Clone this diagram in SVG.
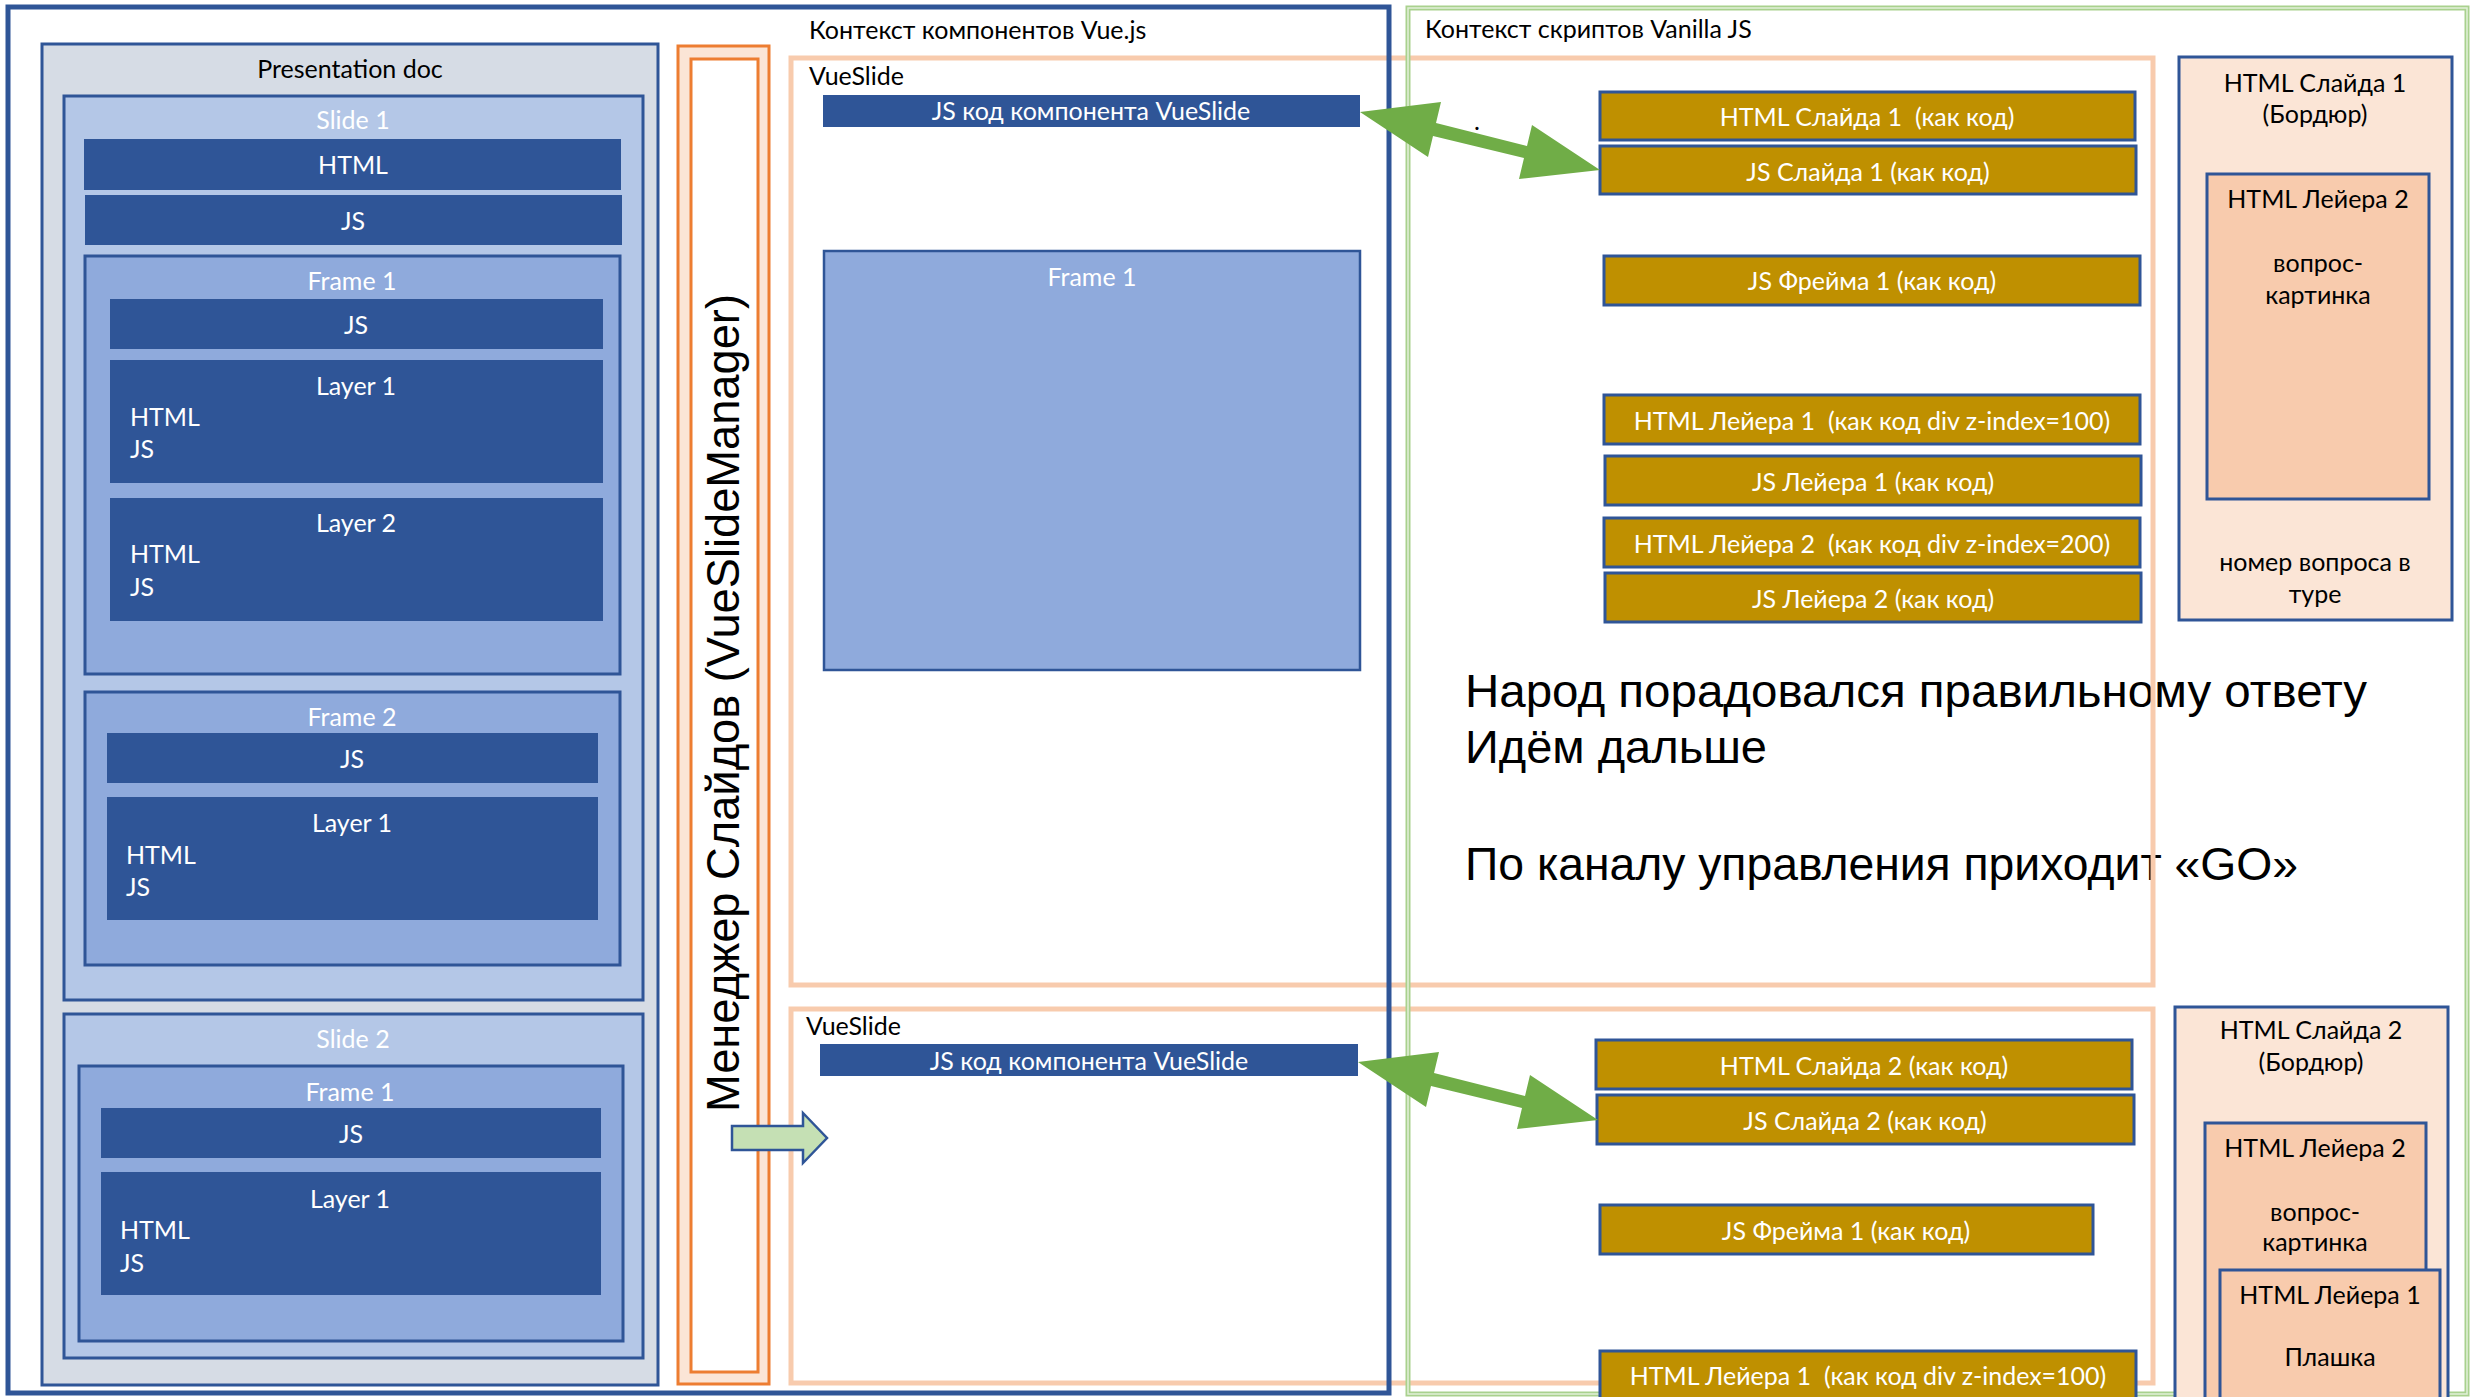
<svg xmlns="http://www.w3.org/2000/svg" width="2471" height="1397" viewBox="0 0 2471 1397">
<style>
.t{font-family:Lato,"Liberation Sans",sans-serif;font-size:25px}
.w{fill:#fff}.k{fill:#000}.m{text-anchor:middle}
.pre{white-space:pre}
.dark{fill:#2f5597}
.slide{fill:#b4c7e7;stroke:#2f5597;stroke-width:3}
.frame{fill:#8faadc;stroke:#2f5597;stroke-width:3}
.gold{fill:#bf9000;stroke:#2f5597;stroke-width:3}
.peach{fill:#fbe5d6;stroke:#2f5597;stroke-width:3}
.peach2{fill:#f8cbad;stroke:#2f5597;stroke-width:3}
.vs{fill:none;stroke:#f8cbad;stroke-width:5}
.big{font-family:"Liberation Sans",Arial,sans-serif;font-size:47px;fill:#000}
</style>
<rect x="0" y="0" width="2471" height="1397" fill="#fff"/>

<g id="big-text">
<text class="big" x="1465" y="707" textLength="902" lengthAdjust="spacingAndGlyphs">Народ порадовался правильному ответу</text>
<text class="big" x="1465" y="763" textLength="302" lengthAdjust="spacingAndGlyphs">Идём дальше</text>
<text class="big" x="1465" y="880" textLength="833" lengthAdjust="spacingAndGlyphs">По каналу управления приходит «GO»</text>
</g>

<g id="vueslide-1">
<rect class="vs" x="791" y="58" width="1362" height="927"/>
<text class="t k" x="809" y="85">VueSlide</text>
</g>
<g id="vueslide-2">
<rect class="vs" x="791" y="1009" width="1362" height="374"/>
<text class="t k" x="806" y="1035">VueSlide</text>
</g>

<g id="ctx-vue">
<rect x="8" y="7" width="1381" height="1386" fill="none" stroke="#2f5597" stroke-width="5"/>
<text class="t k" x="809" y="39">Контекст компонентов Vue.js</text>
</g>
<g id="ctx-vanilla">
<rect x="1408" y="8" width="1059" height="1386" fill="none" stroke="#a9d18e" stroke-width="5"/>
<rect x="1408" y="8" width="1059" height="1386" fill="none" stroke="#e2f0d9" stroke-width="1.5"/>
<text class="t k" x="1425" y="38">Контекст скриптов Vanilla JS</text>
</g>

<g id="presentation-doc">
<rect x="42" y="44" width="616" height="1341" fill="#d6dce5" stroke="#2f5597" stroke-width="3"/>
<text class="t k m" x="350" y="78">Presentation doc</text>
</g>

<g id="slide-1">
<rect class="slide" x="64" y="96" width="579" height="904"/>
<text class="t w m" x="353" y="129">Slide 1</text>
<rect class="dark" x="84" y="139" width="537" height="51"/>
<text class="t w m" x="353" y="174">HTML</text>
<rect class="dark" x="85" y="195" width="537" height="50"/>
<text class="t w m" x="353" y="230">JS</text>
</g>
<g id="s1-frame-1">
<rect class="frame" x="85" y="256" width="535" height="418"/>
<text class="t w m" x="352" y="290">Frame 1</text>
<rect class="dark" x="110" y="299" width="493" height="50"/>
<text class="t w m" x="356" y="334">JS</text>
</g>
<g id="s1-f1-layer-1">
<rect class="dark" x="110" y="360" width="493" height="123"/>
<text class="t w m" x="356" y="395">Layer 1</text>
<text class="t w" x="130" y="426">HTML</text>
<text class="t w" x="130" y="458">JS</text>
</g>
<g id="s1-f1-layer-2">
<rect class="dark" x="110" y="498" width="493" height="123"/>
<text class="t w m" x="356" y="532">Layer 2</text>
<text class="t w" x="130" y="563">HTML</text>
<text class="t w" x="130" y="596">JS</text>
</g>
<g id="s1-frame-2">
<rect class="frame" x="85" y="692" width="535" height="273"/>
<text class="t w m" x="352" y="726">Frame 2</text>
<rect class="dark" x="107" y="733" width="491" height="50"/>
<text class="t w m" x="352" y="768">JS</text>
</g>
<g id="s1-f2-layer-1">
<rect class="dark" x="107" y="797" width="491" height="123"/>
<text class="t w m" x="352" y="832">Layer 1</text>
<text class="t w" x="126" y="864">HTML</text>
<text class="t w" x="126" y="896">JS</text>
</g>

<g id="slide-2">
<rect class="slide" x="64" y="1014" width="579" height="344"/>
<text class="t w m" x="353" y="1048">Slide 2</text>
</g>
<g id="s2-frame-1">
<rect class="frame" x="79" y="1066" width="544" height="275"/>
<text class="t w m" x="350" y="1101">Frame 1</text>
<rect class="dark" x="101" y="1108" width="500" height="50"/>
<text class="t w m" x="351" y="1143">JS</text>
</g>
<g id="s2-f1-layer-1">
<rect class="dark" x="101" y="1172" width="500" height="123"/>
<text class="t w m" x="350" y="1208">Layer 1</text>
<text class="t w" x="120" y="1239">HTML</text>
<text class="t w" x="120" y="1272">JS</text>
</g>

<g id="slide-manager">
<rect x="678" y="46" width="91" height="1338" fill="#fbe5d6" stroke="#ed7d31" stroke-width="3"/>
<rect x="691" y="59" width="67" height="1313" fill="#fff" stroke="#ed7d31" stroke-width="3"/>
<text transform="translate(739,1112) rotate(-90)" x="0" y="0" font-family="'Liberation Sans',Arial,sans-serif" font-size="46" fill="#000" textLength="818" lengthAdjust="spacingAndGlyphs">Менеджер Слайдов (VueSlideManager)</text>
</g>

<g id="vue-js-code-1">
<rect class="dark" x="823" y="95" width="537" height="32"/>
<text class="t w m" x="1091" y="120">JS код компонента VueSlide</text>
</g>
<g id="vue-frame-1">
<rect x="824" y="251" width="536" height="419" fill="#8faadc" stroke="#2f5597" stroke-width="2.5"/>
<text class="t w m" x="1092" y="286">Frame 1</text>
</g>
<g id="vue-js-code-2">
<rect class="dark" x="820" y="1044" width="538" height="32"/>
<text class="t w m" x="1089" y="1070">JS код компонента VueSlide</text>
</g>

<g id="gold-bars-1">
<g id="html-slide-1"><rect class="gold" x="1600" y="92" width="535" height="48"/><text class="t w m pre" xml:space="preserve" x="1867" y="126">HTML Слайда 1  (как код)</text></g>
<g id="js-slide-1"><rect class="gold" x="1600" y="146" width="536" height="48"/><text class="t w m" x="1868" y="181">JS Слайда 1 (как код)</text></g>
<g id="js-frame-1"><rect class="gold" x="1604" y="256" width="536" height="49"/><text class="t w m" x="1872" y="290">JS Фрейма 1 (как код)</text></g>
<g id="html-layer-1"><rect class="gold" x="1604" y="395" width="536" height="49"/><text class="t w m pre" xml:space="preserve" x="1872" y="430">HTML Лейера 1  (как код div z-index=100)</text></g>
<g id="js-layer-1"><rect class="gold" x="1605" y="456" width="536" height="49"/><text class="t w m" x="1873" y="491">JS Лейера 1 (как код)</text></g>
<g id="html-layer-2"><rect class="gold" x="1604" y="518" width="536" height="49"/><text class="t w m pre" xml:space="preserve" x="1872" y="553">HTML Лейера 2  (как код div z-index=200)</text></g>
<g id="js-layer-2"><rect class="gold" x="1605" y="573" width="536" height="49"/><text class="t w m" x="1873" y="608">JS Лейера 2 (как код)</text></g>
</g>
<g id="gold-bars-2">
<g id="html-slide-2"><rect class="gold" x="1596" y="1040" width="536" height="49"/><text class="t w m" x="1864" y="1075">HTML Слайда 2 (как код)</text></g>
<g id="js-slide-2"><rect class="gold" x="1597" y="1095" width="537" height="49"/><text class="t w m" x="1865" y="1130">JS Слайда 2 (как код)</text></g>
<g id="js-frame-1b"><rect class="gold" x="1600" y="1205" width="493" height="49"/><text class="t w m" x="1846" y="1240">JS Фрейма 1 (как код)</text></g>
<g id="html-layer-1b"><rect class="gold" x="1600" y="1351" width="536" height="60"/><text class="t w m pre" xml:space="preserve" x="1868" y="1385">HTML Лейера 1  (как код div z-index=100)</text></g>
</g>

<g id="border-slide-1">
<rect class="peach" x="2179" y="57" width="273" height="563"/>
<text class="t k m" x="2315" y="92">HTML Слайда 1</text>
<text class="t k m" x="2315" y="123">(Бордюр)</text>
<text class="t k m" x="2315" y="571">номер вопроса в</text>
<text class="t k m" x="2315" y="603">туре</text>
</g>
<g id="border-s1-layer-2">
<rect class="peach2" x="2207" y="174" width="222" height="325"/>
<text class="t k m" x="2318" y="208">HTML Лейера 2</text>
<text class="t k m" x="2318" y="272">вопрос-</text>
<text class="t k m" x="2318" y="304">картинка</text>
</g>
<g id="border-slide-2">
<rect class="peach" x="2175" y="1007" width="273" height="420"/>
<text class="t k m" x="2311" y="1039">HTML Слайда 2</text>
<text class="t k m" x="2311" y="1071">(Бордюр)</text>
</g>
<g id="border-s2-layer-2">
<rect class="peach2" x="2205" y="1123" width="221" height="300"/>
<text class="t k m" x="2315" y="1157">HTML Лейера 2</text>
<text class="t k m" x="2315" y="1221">вопрос-</text>
<text class="t k m" x="2315" y="1251">картинка</text>
</g>
<g id="border-s2-layer-1">
<rect class="peach2" x="2220" y="1270" width="220" height="200"/>
<text class="t k m" x="2330" y="1304">HTML Лейера 1</text>
<text class="t k m" x="2330" y="1366">Плашка</text>
</g>

<g id="connectors">
<polygon points="732,1126 803,1126 803,1113 827,1138 803,1163 803,1150 732,1150" fill="#c5e0b4" stroke="#2f5597" stroke-width="2.5"/>
<polygon points="1360,112 1441,102 1436,123 1527,146 1532,125 1600,170 1519,179 1524,158 1433,136 1428,157" fill="#70ad47"/>
<polygon points="1358,1062 1439,1052 1434,1073 1525,1096 1530,1075 1598,1120 1517,1129 1522,1108 1431,1086 1426,1107" fill="#70ad47"/>
<text class="t k" x="1474" y="130" font-size="16">.</text>
</g>
</svg>
